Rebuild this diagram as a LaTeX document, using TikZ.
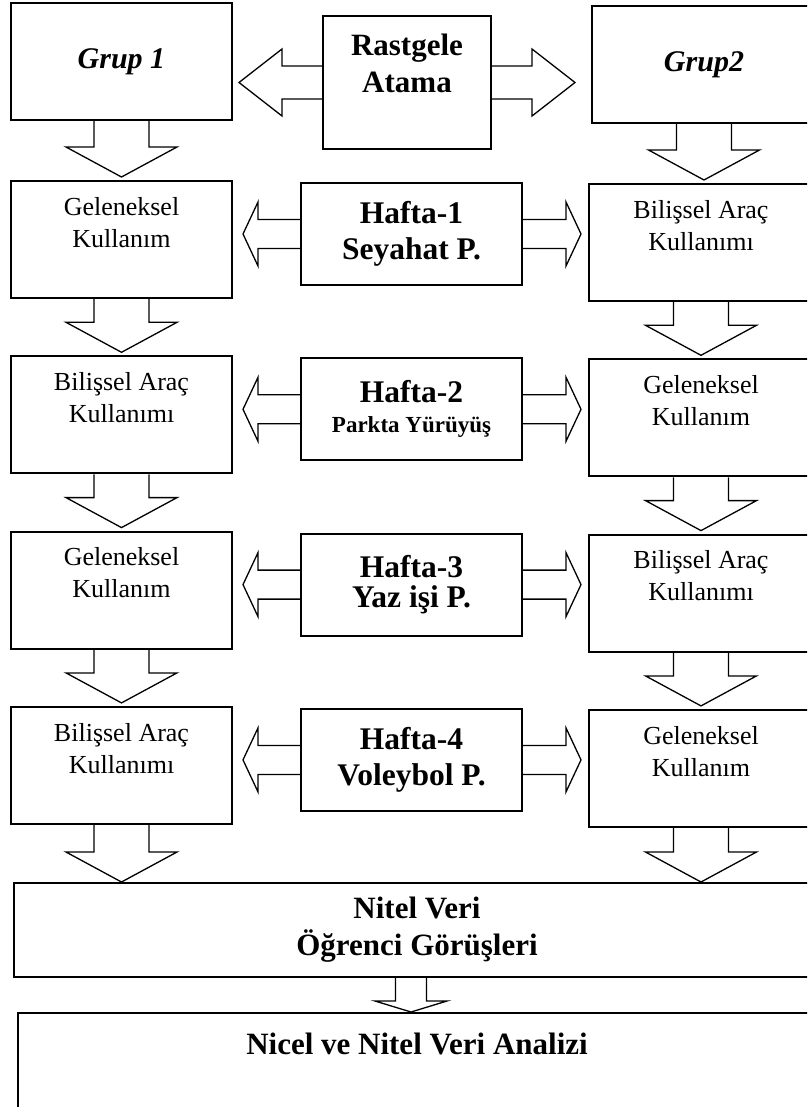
\documentclass[tikz,border=0pt]{standalone}
\usepackage{fontspec}
\setmainfont{Liberation Serif}
\usetikzlibrary{positioning,calc}

% hollow block arrows: start, tip, shaft half width, head half width, head length
\newcommand{\hblock}[5]{%
  \draw [blockarrow] let \p1=#1, \p2=#2, \n1={sign(\x1-\x2)*#5} in
    (\x1,\y1+#3) -- (\x2+\n1,\y1+#3) -- (\x2+\n1,\y1+#4) -- (\x2,\y1)
    -- (\x2+\n1,\y1-#4) -- (\x2+\n1,\y1-#3) -- (\x1,\y1-#3);}
\newcommand{\vblock}[5]{%
  \draw [blockarrow] let \p1=#1, \p2=#2 in
    (\x1-#3,\y1) -- (\x1-#3,\y2+#5) -- (\x1-#4,\y2+#5) -- (\x1,\y2)
    -- (\x1+#4,\y2+#5) -- (\x1+#3,\y2+#5) -- (\x1+#3,\y1);}

\begin{document}
\begin{tikzpicture}[x=1pt, y=1pt, node distance=175.3pt]
  % Define styles
  \tikzstyle{sidebox} = [rectangle, draw, line width=2pt, minimum width=221pt, minimum height=117pt, inner sep=0pt]
  \tikzstyle{sidetext} = [font=\fontsize{26}{32}\selectfont, align=center, inner sep=0pt]
  \tikzstyle{weekbox} = [rectangle, draw, line width=2pt, minimum width=221pt, minimum height=102pt, align=center, font=\bfseries\fontsize{31.5}{36}\selectfont]
  \tikzstyle{boldtext} = [font=\bfseries\fontsize{31}{37}\selectfont, align=center, inner sep=0pt]
  \tikzstyle{blockarrow} = [line width=1.3pt, line join=miter]

  \useasboundingbox (0,0) rectangle (807,-1107);
  \clip (0,0) rectangle (807,-1107);

  % Top row
  \node [sidebox, font=\bfseries\itshape\fontsize{30}{36}\selectfont] (g1) at (121.5,-61.5) {Grup 1};
  \node [sidebox, minimum height=133pt, minimum width=168pt] (ra) at (407,-82.5) {};
  \node [boldtext, below=19pt of ra.north] (ratext) {Rastgele\\Atama};
  \node [sidebox, minimum width=224pt, font=\bfseries\itshape\fontsize{30}{36}\selectfont] (g2) at (704,-64.5) {Grup2};

  % Group 1 column
  \node [sidebox] (l1) at (121.5,-239.5) {};
  \node [sidebox, below of=l1] (l2) {};
  \node [sidebox, below of=l2] (l3) {};
  \node [sidebox, below of=l3] (l4) {};
  \node [sidetext, below=17pt of l1.north] (l1text) {Geleneksel\\Kullanım};
  \node [sidetext, below=17pt of l2.north] (l2text) {Bilişsel Araç\\Kullanımı};
  \node [sidetext, below=17pt of l3.north] (l3text) {Geleneksel\\Kullanım};
  \node [sidetext, below=17pt of l4.north] (l4text) {Bilişsel Araç\\Kullanımı};

  % Weeks
  \node [weekbox] (h1) at (411.5,-234) {Hafta-1\\Seyahat P.};
  \node [weekbox, below of=h1] (h2) {Hafta-2\\[-6pt]{\fontsize{23}{28}\selectfont Parkta Yürüyüş}};
  \node [weekbox, below of=h2] (h3) {Hafta-3\\[-6pt]Yaz işi P.};
  \node [weekbox, below of=h3] (h4) {Hafta-4\\Voleybol P.};

  % Group 2 column
  \node [sidebox, minimum width=224pt] (r1) at (701,-242.5) {};
  \node [sidebox, minimum width=224pt, below of=r1] (r2) {};
  \node [sidebox, minimum width=224pt, below of=r2] (r3) {};
  \node [sidebox, minimum width=224pt, below of=r3] (r4) {};
  \node [sidetext, below=17pt of r1.north] (r1text) {Bilişsel Araç\\Kullanımı};
  \node [sidetext, below=17pt of r2.north] (r2text) {Geleneksel\\Kullanım};
  \node [sidetext, below=17pt of r3.north] (r3text) {Bilişsel Araç\\Kullanımı};
  \node [sidetext, below=17pt of r4.north] (r4text) {Geleneksel\\Kullanım};

  % Results
  \node [sidebox, minimum width=806pt, minimum height=94pt, boldtext] (nitel) at (417,-930) {Nitel Veri\\Öğrenci Görüşleri};
  \node [sidebox, minimum width=798pt, minimum height=127pt] (nicel) at (417,-1076.5) {};
  \node [boldtext, below=21pt of nicel.north] (niceltext) {Nicel ve Nitel Veri Analizi};

  % Random assignment arrows
  \hblock{(ra.west)}{([xshift=6pt]g1.east)}{16.5}{33.5}{43}
  \hblock{(ra.east)}{([xshift=-16pt]g2.west)}{16.5}{33.5}{43}

  % Week arrows
  \hblock{(h1.west)}{([xshift=10pt]l1.east)}{14.5}{32}{15}
  \hblock{(h1.east)}{([xshift=-7pt]r1.west)}{14.5}{32}{15}
  \hblock{(h2.west)}{([xshift=10pt]l2.east)}{14.5}{32}{15}
  \hblock{(h2.east)}{([xshift=-7pt]r2.west)}{14.5}{32}{15}
  \hblock{(h3.west)}{([xshift=10pt]l3.east)}{14.5}{32}{15}
  \hblock{(h3.east)}{([xshift=-7pt]r3.west)}{14.5}{32}{15}
  \hblock{(h4.west)}{([xshift=10pt]l4.east)}{14.5}{32}{15}
  \hblock{(h4.east)}{([xshift=-7pt]r4.west)}{14.5}{32}{15}

  % Down arrows
  \vblock{(g1.south)}{([yshift=3pt]l1.north)}{27.5}{55.5}{30}
  \vblock{(l1.south)}{([yshift=3pt]l2.north)}{27.5}{55.5}{30}
  \vblock{(l2.south)}{([yshift=3pt]l3.north)}{27.5}{55.5}{30}
  \vblock{(l3.south)}{([yshift=3pt]l4.north)}{27.5}{55.5}{30}
  \vblock{(l4.south)}{(nitel.north)}{27.5}{55.5}{30}
  \vblock{(g2.south)}{([yshift=3pt]r1.north)}{27.5}{55.5}{30}
  \vblock{(r1.south)}{([yshift=3pt]r2.north)}{27.5}{55.5}{30}
  \vblock{(r2.south)}{([yshift=3pt]r3.north)}{27.5}{55.5}{30}
  \vblock{(r3.south)}{([yshift=3pt]r4.north)}{27.5}{55.5}{30}
  \vblock{(r4.south)}{(nitel.north)}{27.5}{55.5}{30}
  \vblock{([xshift=-6pt]nitel.south)}{(nicel.north)}{15.5}{36}{11}
\end{tikzpicture}
\end{document}
